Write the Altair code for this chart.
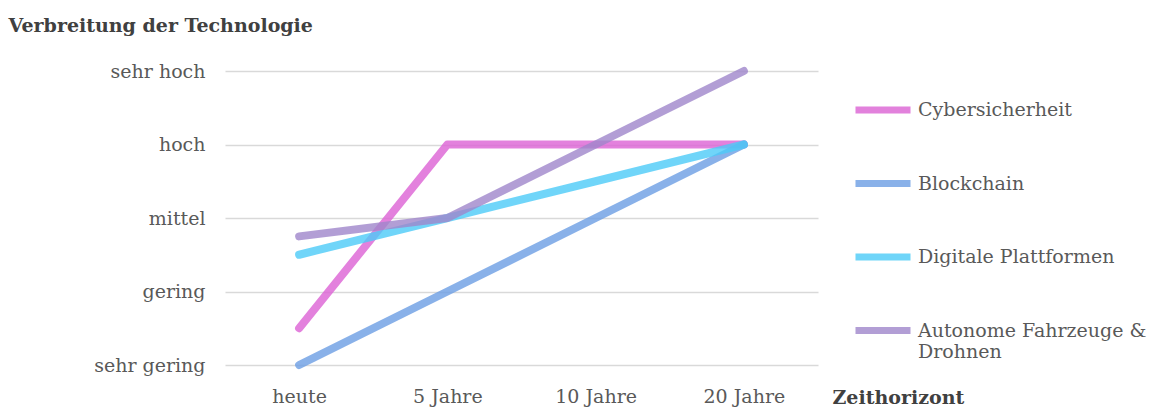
import altair as alt
import pandas as pd

# Zeithorizont categories and ordinal levels (1 = sehr gering ... 5 = sehr hoch)
horizons = ["heute", "5 Jahre", "10 Jahre", "20 Jahre"]
level_labels = ["sehr gering", "gering", "mittel", "hoch", "sehr hoch"]

series_names = ["Cybersicherheit", "Blockchain", "Digitale Plattformen",
                "Autonome Fahrzeuge & Drohnen"]
cyber = [1.5, 4, 4, 4]
blockchain = [1, 2, 3, 4]
plattformen = [2.5, 3, 3.5, 4]
autonom = [2.75, 3, 4, 5]
colors = ["#dc62d4", "#6c9ee4", "#4ccbf8", "#9f86cb"]

values = [cyber, blockchain, plattformen, autonom]
rows = []
for name, vals in zip(series_names, values):
    for h, v in zip(horizons, vals):
        rows.append({"Technologie": name, "Zeithorizont": h, "Wert": v})
df = pd.DataFrame(rows)

FONT = "DejaVu Serif"
GREY = "#595959"
FS = 19

label_expr = ("+datum.value == 1 ? '%s' : +datum.value == 2 ? '%s' : "
              "+datum.value == 3 ? '%s' : +datum.value == 4 ? '%s' : '%s'") % tuple(level_labels)

chart = alt.Chart(df).mark_line(
    strokeWidth=8, strokeOpacity=0.8, strokeCap="round", strokeJoin="round"
).encode(
    x=alt.X("Zeithorizont:N", sort=horizons,
            scale=alt.Scale(type="point", padding=0.5),
            axis=alt.Axis(title="Zeithorizont", labelAngle=0, ticks=False, domain=False,
                          labelPadding=22, labelFontSize=FS, labelColor=GREY,
                          labelFont=FONT, titleFont=FONT, titleFontSize=FS,
                          titleFontWeight="bold", titleColor="#404040",
                          titleAlign="left", titleBaseline="middle",
                          titleX=607, titleY=32)),
    y=alt.Y("Wert:Q", scale=alt.Scale(domain=[1, 5], nice=False, zero=False),
            axis=alt.Axis(title="Verbreitung der Technologie", values=[1, 2, 3, 4, 5],
                          labelExpr=label_expr, ticks=False, domain=False,
                          labelPadding=20, labelFontSize=FS, labelColor=GREY,
                          labelFont=FONT, gridColor="#d9d9d9", gridWidth=1.5,
                          titleFont=FONT, titleFontSize=FS, titleFontWeight="bold",
                          titleColor="#404040", titleAngle=0, titleAlign="left",
                          titleBaseline="middle", titleX=-217, titleY=-46)),
    color=alt.Color("Technologie:N", scale=alt.Scale(domain=series_names, range=colors),
                    legend=alt.Legend(
                        title=None, orient="none", legendX=627, legendY=8,
                        symbolType="stroke", symbolSize=3025, symbolStrokeWidth=7,
                        symbolOpacity=0.8, labelFont=FONT, labelFontSize=FS,
                        labelColor=GREY, labelOffset=4, rowPadding=28.5,
                        labelLimit=400,
                        labelExpr="datum.label == 'Autonome Fahrzeuge & Drohnen' ? "
                                  "['Autonome Fahrzeuge &', 'Drohnen'] : datum.label")),
).properties(
    width=593, height=294,
    background="white",
    autosize=alt.AutoSizeParams(type="none"),
    padding={"left": 225, "top": 71, "right": 348, "bottom": 43},
).configure_view(stroke=None)

chart.save("out.html", embed_options={"renderer": "svg", "actions": False})
